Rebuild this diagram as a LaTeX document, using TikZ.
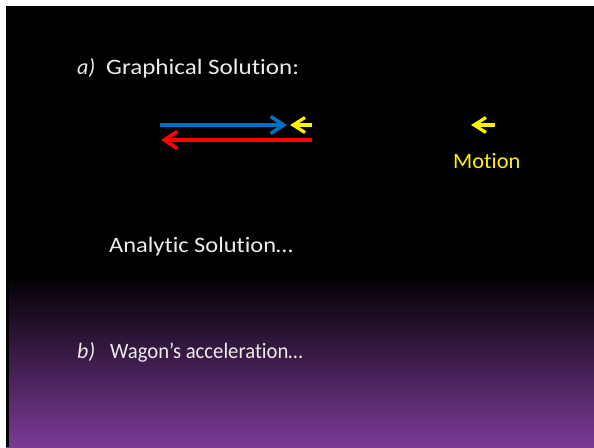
\documentclass[tikz,border=0pt]{standalone}
\usepackage{fontspec}
\setmainfont[Ligatures={NoCommon,NoDiscretionary,NoRare}]{Carlito}
\usetikzlibrary{arrows.meta}
\definecolor{slidepurple}{RGB}{123,58,150}
\definecolor{arrowblue}{RGB}{0,112,192}
\definecolor{txtgray}{RGB}{236,236,236}
\tikzset{
  slidetext/.style={anchor=base west, inner sep=0pt, text=txtgray, font=\fontsize{22}{24}\selectfont},
  motiontext/.style={anchor=base west, inner sep=0pt, text=yellow, font=\fontsize{22}{24}\selectfont},
  vec/.style={line width=3.6pt, -{Straight Barb[length=13pt,width=17pt,line width=3.6pt]}},
  smallvec/.style={line width=3.2pt, -{Straight Barb[length=12pt,width=15pt,line width=3.2pt]}},
}
\begin{document}
\begin{tikzpicture}[x=1pt,y=-1pt]
\useasboundingbox (0,0) rectangle (594,447);
\fill[white] (0,0) rectangle (594,447);
\fill[black] (6,6) rectangle (594,276);
\shade[top color=black, bottom color=slidepurple] (6,275) rectangle (594,447);
\fill[black] (6,276) rectangle (8.5,447);
% texts
\node[slidetext] (alab) at (77,74) {\itshape a)};
\node[slidetext] (atxt) at (106,74) {\scalebox{1.14}[1]{Graphical Solution:}};
\node[slidetext] (anal) at (109,252) {\scalebox{1.11}[1]{Analytic Solution…}};
\node[slidetext] (blab) at (77,358) {\itshape b)};
\node[slidetext] (btxt) at (110,358) {\scalebox{0.94}[1]{Wagon’s acceleration…}};
\node[motiontext] (motion) at (453,168) {\scalebox{1.02}[1]{Motion}};
% arrow end points
\coordinate (bstart) at (160,125);
\coordinate (bend) at (287,125);
\coordinate (ystart) at (312,125);
\coordinate (yend) at (290,125);
\coordinate (rstart) at (312,140);
\coordinate (rend) at (161,140);
\coordinate (mstart) at (495,125);
\coordinate (mend) at (471,125);
\draw[vec, arrowblue] (bstart) -- (bend);
\draw[vec, red] (rstart) -- (rend);
\draw[smallvec, yellow] (ystart) -- (yend);
\draw[smallvec, yellow] (mstart) -- (mend);
\end{tikzpicture}
\end{document}
